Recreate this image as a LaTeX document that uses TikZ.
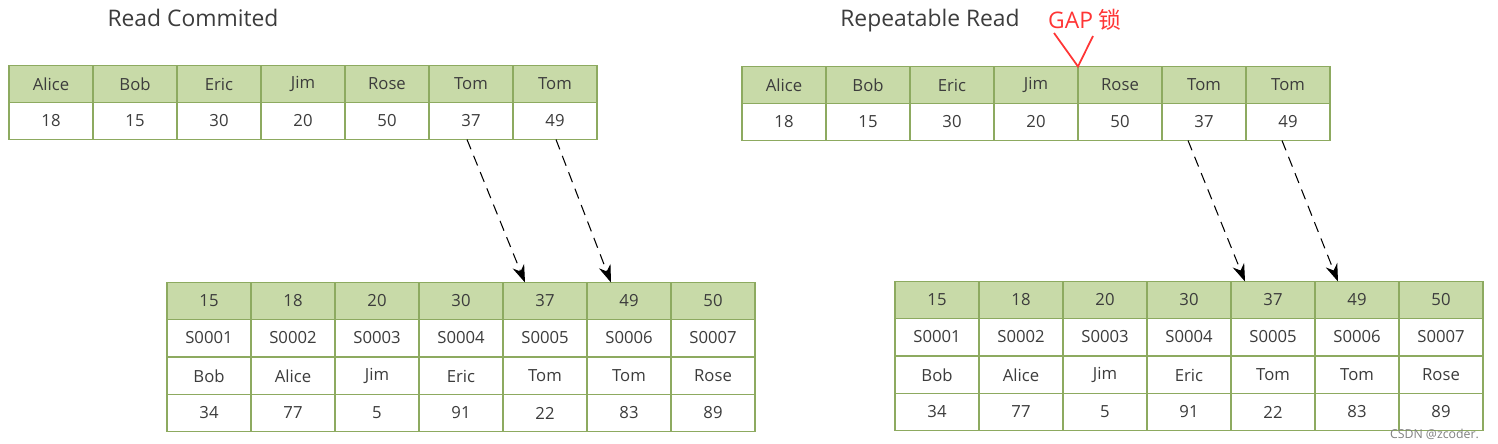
\documentclass[tikz,border=0pt]{standalone}
\usepackage{fontspec}
\setmainfont{Open Sans}
\newfontfamily\cjk{Noto Sans CJK SC}
\usepackage{tikz}
\usetikzlibrary{arrows.meta}
\definecolor{hdrgreen}{HTML}{C8DAA8}
\definecolor{gridgreen}{HTML}{8DAA60}
\definecolor{txtgray}{HTML}{3C3C3C}
\definecolor{gapred}{HTML}{FF3535}

\tikzset{
	cell/.style = {draw=gridgreen, line width=1pt, minimum width=1.68cm, minimum height=0.74cm,
		inner sep=0, outer sep=0, text=txtgray, font=\fontsize{9.5}{11}\selectfont},
	hcell/.style = {cell, fill=hdrgreen},
	dcell/.style = {cell, fill=white},
	title/.style = {text=txtgray, font=\fontsize{13}{15}\selectfont},
	ptr/.style = {dash pattern=on 6pt off 4pt, line width=0.6pt, -{Stealth[length=10pt,width=7pt]}},
}

\begin{document}
\begin{tikzpicture}[x=0.02cm, y=-0.02cm]
	\useasboundingbox (0,0) rectangle (1498,443);
	% titles
	\node[title] (rctitle) at (193,18) {Read Commited};
	\node[title] (rrtitle) at (930,21) {Repeatable Read};
	% read commited: secondary index
	\foreach \n [count=\i] in {Alice,Bob,Eric,Jim,Rose,Tom,Tom} { \node[hcell] (rcn\i) at (51+84*\i-84,84) {\n}; }
	\foreach \a [count=\i] in {18,15,30,20,50,37,49} { \node[dcell] (rca\i) at (51+84*\i-84,121) {\a}; }
	% read commited: clustered index
	\foreach \a [count=\i] in {15,18,20,30,37,49,50} { \node[hcell] (rck\i) at (209+84*\i-84,301) {\a}; }
	\foreach \s [count=\i] in {S0001,S0002,S0003,S0004,S0005,S0006,S0007} { \node[dcell] (rcs\i) at (209+84*\i-84,338) {\s}; }
	\foreach \n [count=\i] in {Bob,Alice,Jim,Eric,Tom,Tom,Rose} { \node[dcell] (rcm\i) at (209+84*\i-84,376) {\n}; }
	\foreach \v [count=\i] in {34,77,5,91,22,83,89} { \node[dcell] (rcv\i) at (209+84*\i-84,413) {\v}; }
	% repeatable read: secondary index
	\foreach \n [count=\i] in {Alice,Bob,Eric,Jim,Rose,Tom,Tom} { \node[hcell] (rrn\i) at (784+84*\i-84,85) {\n}; }
	\foreach \a [count=\i] in {18,15,30,20,50,37,49} { \node[dcell] (rra\i) at (784+84*\i-84,122) {\a}; }
	% repeatable read: clustered index
	\foreach \a [count=\i] in {15,18,20,30,37,49,50} { \node[hcell] (rrk\i) at (937+84*\i-84,300) {\a}; }
	\foreach \s [count=\i] in {S0001,S0002,S0003,S0004,S0005,S0006,S0007} { \node[dcell] (rrs\i) at (937+84*\i-84,337) {\s}; }
	\foreach \n [count=\i] in {Bob,Alice,Jim,Eric,Tom,Tom,Rose} { \node[dcell] (rrm\i) at (937+84*\i-84,375) {\n}; }
	\foreach \v [count=\i] in {34,77,5,91,22,83,89} { \node[dcell] (rrv\i) at (937+84*\i-84,412) {\v}; }
	% lookups
	\draw[ptr] ([xshift=-0.08cm]rca6.south) -- ([xshift=-0.4cm]rck5.north);
	\draw[ptr] ([xshift=0.02cm]rca7.south) -- ([xshift=-0.36cm]rck6.north);
	\draw[ptr] ([xshift=-0.32cm]rra6.south) -- ([xshift=-0.56cm]rrk5.north);
	\draw[ptr] ([xshift=-0.12cm]rra7.south) -- ([xshift=-0.38cm]rrk6.north);
	% gap lock
	\node[text=gapred, font=\fontsize{13}{15}\selectfont] (gap) at (1085,20) {GAP \cjk 锁};
	\coordinate (gapl) at (1054,33);
	\coordinate (gapr) at (1093,36);
	\draw[gapred, line width=1pt] (gapl) -- (rrn4.north east) -- (gapr);
	% watermark
	\node[anchor=east, text=gray, font=\fontsize{7}{8}\selectfont] (mark) at (1485,434) {CSDN @zcoder.};
\end{tikzpicture}
\end{document}
